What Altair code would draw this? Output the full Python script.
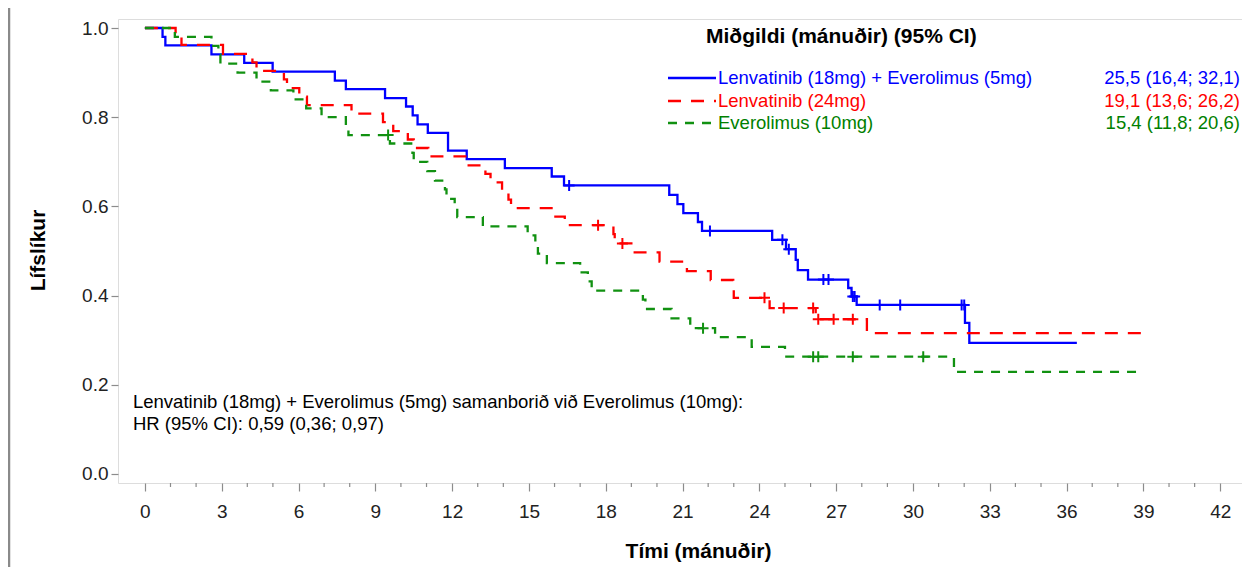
import altair as alt
import pandas as pd
import numpy as np

# ---------------- data ----------------
series_names = ["Lenvatinib (18mg) + Everolimus (5mg)", "Lenvatinib (24mg)", "Everolimus (10mg)"]
medians = ["25,5 (16,4; 32,1)", "19,1 (13,6; 26,2)", "15,4 (11,8; 20,6)"]
header_text = "Miðgildi (mánuðir) (95% CI)"
hr_lines = ["Lenvatinib (18mg) + Everolimus (5mg) samanborið við Everolimus (10mg):",
            "HR (95% CI): 0,59 (0,36; 0,97)"]

blue_t = [0, 0.69, 0.8, 2.6, 3.88, 4.99, 7.42, 7.85, 9.38, 10.2, 10.46, 10.65, 11.05, 11.84,
          12.57, 14.06, 15.89, 16.37, 20.48, 20.8, 21.03, 21.6, 21.76, 24.5, 25.04, 25.42,
          25.5, 25.9, 27.47, 27.6, 27.8, 32.03, 32.2, 36.4]
blue_s = [1.0, 0.980, 0.961, 0.941, 0.922, 0.902, 0.882, 0.863, 0.843, 0.824, 0.804, 0.784,
          0.765, 0.725, 0.706, 0.686, 0.667, 0.647, 0.626, 0.605, 0.585, 0.565, 0.545, 0.525,
          0.504, 0.48, 0.457, 0.436, 0.417, 0.398, 0.379, 0.339, 0.294, 0.294]
blue_cens = [16.57, 22.07, 24.9, 25.15, 26.5, 26.7, 27.65, 27.72, 28.7, 29.5, 31.9, 32.0]

red_t = [0, 1.2, 1.43, 3.05, 4.2, 4.36, 5.43, 5.55, 6.03, 6.33, 8.07, 9.3, 9.7, 10.27, 10.5,
         11.07, 12.57, 13.3, 13.5, 13.95, 14.2, 14.3, 15.95, 16.4, 18.3, 18.35, 19.0, 20.1,
         21.17, 22.1, 22.98, 23.0, 24.4, 26.2, 28.2, 39.2]
red_s = [1.0, 0.981, 0.962, 0.942, 0.923, 0.904, 0.885, 0.865, 0.846, 0.827, 0.808, 0.789,
         0.769, 0.750, 0.731, 0.712, 0.692, 0.673, 0.654, 0.635, 0.615, 0.596, 0.577, 0.558,
         0.538, 0.517, 0.497, 0.476, 0.455, 0.435, 0.415, 0.395, 0.372, 0.347, 0.316, 0.316]
red_cens = [17.7, 18.65, 24.2, 24.95, 26.1, 26.3, 26.9, 27.65]

green_t = [0, 1.17, 2.6, 2.87, 2.95, 3.62, 4.36, 4.92, 5.8, 6.3, 6.9, 7.85, 7.95, 9.57, 10.45,
           10.5, 11.03, 11.33, 11.72, 11.78, 12.1, 12.2, 13.2, 14.95, 15.25, 15.35, 15.7, 17.0,
           17.3, 17.45, 19.45, 19.55, 20.57, 21.3, 22.27, 23.7, 25.0, 31.6, 38.75]
green_s = [1.0, 0.98, 0.96, 0.94, 0.92, 0.90, 0.88, 0.86, 0.84, 0.82, 0.80, 0.78, 0.76, 0.741,
           0.720, 0.700, 0.679, 0.658, 0.638, 0.617, 0.597, 0.576, 0.555, 0.535, 0.514, 0.494,
           0.473, 0.452, 0.432, 0.411, 0.391, 0.370, 0.349, 0.327, 0.307, 0.285, 0.263, 0.229,
           0.229]
green_cens = [9.5, 21.8, 26.1, 26.3, 27.65, 30.4]

x_ticks = list(range(0, 43, 3))
x_minor = [i for i in range(0, 43) if i % 3]
y_ticks = [0.0, 0.2, 0.4, 0.6, 0.8, 1.0]

# ---------------- styling ----------------
line_colors = ["#0000ff", "#ff0000", "#119111"]
text_colors = ["#0000ff", "#ff0000", "#008000"]
dashes = [None, [13, 10], [9, 8]]
FONT = "Liberation Sans"
W, H = 1124, 464
GRAY = "#8c8c8c"

xscale = alt.Scale(domain=[-1.05, 42.85], nice=False, zero=False)
yscale = alt.Scale(domain=[-0.0202, 1.0202], nice=False, zero=False)
xaxis = alt.Axis(values=x_ticks, title="Tími (mánuðir)", grid=False, domain=False,
                 tickSize=8, tickColor=GRAY, tickWidth=1.2, labelFontSize=19,
                 labelPadding=11, labelColor="#222222", labelFont=FONT,
                 titleFont=FONT, titleFontSize=21, titleFontWeight="bold",
                 titleColor="#000000", titleX=580, titleY=68, titleAlign="center",
                 titleBaseline="middle")
yaxis = alt.Axis(values=y_ticks, format=".1f", title="Lífslíkur", grid=False, domain=False,
                 tickSize=7, tickColor=GRAY, tickWidth=1.2, labelFontSize=19,
                 labelPadding=3, labelColor="#222222", labelFont=FONT,
                 titleFont=FONT, titleFontSize=21, titleFontWeight="bold",
                 titleColor="#000000", titleAngle=270, titleX=-80, titleY=231,
                 titleAlign="center", titleBaseline="middle")


def X(f="t"):
    return alt.X(f"{f}:Q", scale=xscale, axis=xaxis)


def Y(f="s"):
    return alt.Y(f"{f}:Q", scale=yscale, axis=yaxis)


curves = [(blue_t, blue_s, blue_cens), (red_t, red_s, red_cens), (green_t, green_s, green_cens)]

layers = []

# outer page border line on the left
layers.append(alt.Chart(pd.DataFrame({"a": [0]})).mark_rule(color="#8a8a8a", strokeWidth=2.5).encode(
    x=alt.value(-109), y=alt.value(-19), y2=alt.value(548)))

# minor ticks on x axis
layers.append(alt.Chart(pd.DataFrame({"t": x_minor})).mark_rule(color=GRAY, strokeWidth=1.2).encode(
    x=X("t"), y=alt.value(H), y2=alt.value(H + 4)))

CENSOR = "M-1,0L1,0M0,-1L0,1"
for i, (tt, ss, cc) in enumerate(curves):
    df = pd.DataFrame({"t": tt, "s": ss})
    kw = dict(interpolate="step-after", color=line_colors[i], strokeWidth=2.3, clip=True)
    if dashes[i]:
        kw["strokeDash"] = dashes[i]
    layers.append(alt.Chart(df).mark_line(**kw).encode(x=X("t"), y=Y("s")))
    idx = np.searchsorted(np.array(tt), np.array(cc), side="right") - 1
    dfc = pd.DataFrame({"t": cc, "s": [ss[j] for j in idx]})
    layers.append(alt.Chart(dfc).mark_point(shape=CENSOR, size=121, filled=False, strokeWidth=2,
                                            color=line_colors[i], opacity=1).encode(
        x=X("t"), y=Y("s")))

# legend block
layers.append(alt.Chart(pd.DataFrame({"txt": [header_text]})).mark_text(
    align="left", baseline="middle", font=FONT, fontSize=21, fontWeight="bold", color="#000000").encode(
    text="txt:N", x=alt.value(588), y=alt.value(18)))
row_y = [59, 82, 104]
for i in range(3):
    kw = dict(color=line_colors[i], strokeWidth=2.3)
    if dashes[i]:
        kw["strokeDash"] = dashes[i]
    layers.append(alt.Chart(pd.DataFrame({"a": [0]})).mark_rule(**kw).encode(
        x=alt.value(550), x2=alt.value(598), y=alt.value(row_y[i])))
    layers.append(alt.Chart(pd.DataFrame({"txt": [series_names[i]]})).mark_text(
        align="left", baseline="middle", font=FONT, fontSize=18.5, color=text_colors[i]).encode(
        text="txt:N", x=alt.value(600), y=alt.value(row_y[i])))
    layers.append(alt.Chart(pd.DataFrame({"txt": [medians[i]]})).mark_text(
        align="right", baseline="middle", font=FONT, fontSize=18.5, color=text_colors[i]).encode(
        text="txt:N", x=alt.value(1122), y=alt.value(row_y[i])))

# hazard-ratio annotation
for k, line in enumerate(hr_lines):
    layers.append(alt.Chart(pd.DataFrame({"txt": [line]})).mark_text(
        align="left", baseline="middle", font=FONT, fontSize=18.5, color="#000000").encode(
        text="txt:N", x=alt.value(15), y=alt.value(383 + 22 * k)))

chart = alt.layer(*layers).properties(
    width=W, height=H, autosize="none",
    padding={"left": 110, "top": 11, "right": 0, "bottom": 84},
).configure_view(stroke="#a8a8a8", strokeWidth=1.6).configure(font=FONT)

chart.save("out.html", embed_options={"renderer": "svg", "actions": False})
